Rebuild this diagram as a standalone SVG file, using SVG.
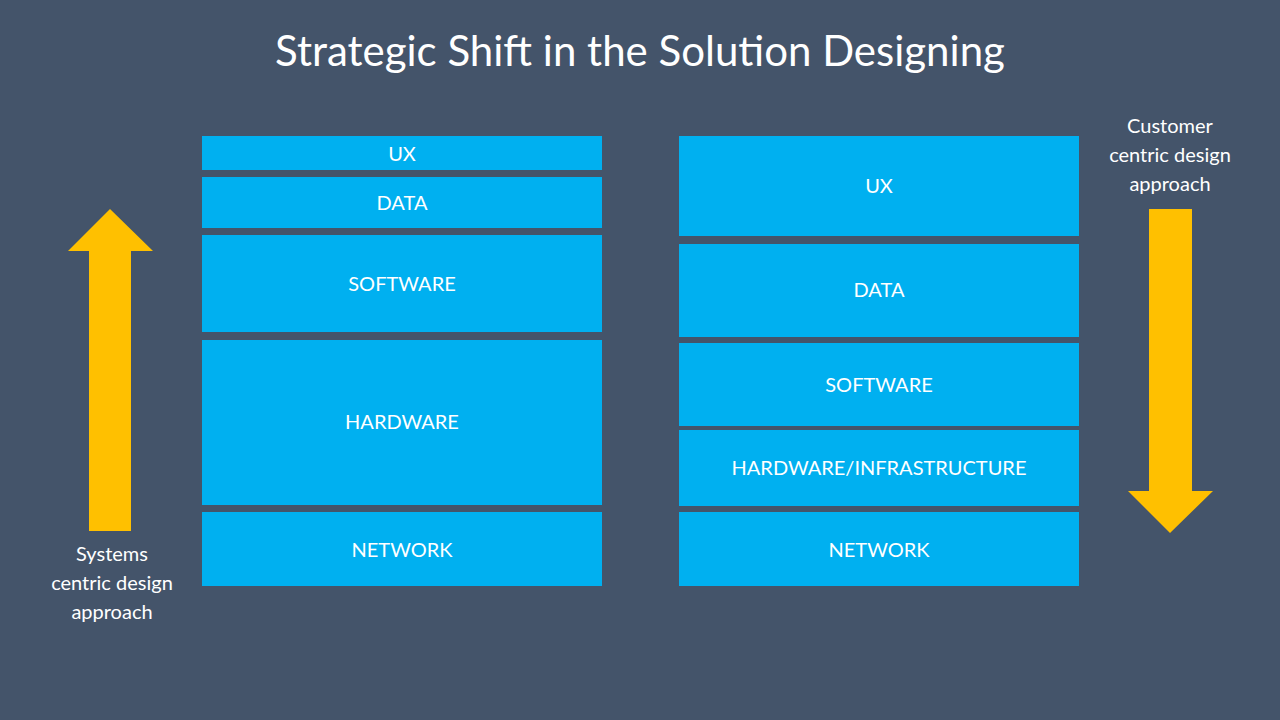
<svg xmlns="http://www.w3.org/2000/svg" width="1280" height="720" viewBox="0 0 1280 720">
<style>
.b{fill:#00B0F0}
.t{font-family:Lato,"Open Sans",sans-serif;font-size:20px;fill:#fff;text-anchor:middle;dominant-baseline:central}
.a{fill:#FFC000}
</style>
<rect width="1280" height="720" fill="#44546A"/>
<text x="640" y="50" class="t" style="font-size:42px">Strategic Shift in the Solution Designing</text>
<g id="left">
<g id="l-ux"><rect class="b" x="202" y="136" width="400" height="34"/><text class="t" x="402" y="153">UX</text></g>
<g id="l-data"><rect class="b" x="202" y="177" width="400" height="51"/><text class="t" x="402" y="202">DATA</text></g>
<g id="l-sw"><rect class="b" x="202" y="235" width="400" height="97"/><text class="t" x="402" y="283">SOFTWARE</text></g>
<g id="l-hw"><rect class="b" x="202" y="340" width="400" height="165"/><text class="t" x="402" y="421">HARDWARE</text></g>
<g id="l-net"><rect class="b" x="202" y="512" width="400" height="74"/><text class="t" x="402" y="549">NETWORK</text></g>
</g>
<g id="right">
<g id="r-ux"><rect class="b" x="679" y="136" width="400" height="100"/><text class="t" x="879" y="185">UX</text></g>
<g id="r-data"><rect class="b" x="679" y="244" width="400" height="93"/><text class="t" x="879" y="289">DATA</text></g>
<g id="r-sw"><rect class="b" x="679" y="343" width="400" height="83"/><text class="t" x="879" y="384">SOFTWARE</text></g>
<g id="r-hw"><rect class="b" x="679" y="430" width="400" height="76"/><text class="t" x="879" y="467">HARDWARE/INFRASTRUCTURE</text></g>
<g id="r-net"><rect class="b" x="679" y="512" width="400" height="74"/><text class="t" x="879" y="549">NETWORK</text></g>
</g>
<g id="connectors">
<polygon class="a" points="110,209 153,251 131,251 131,531 89,531 89,251 68,251"/>
<polygon class="a" points="1149,209 1192,209 1192,491 1213,491 1170,533 1128,491 1149,491"/>
</g>
<g id="labels">
<text class="t" x="112" y="553">Systems</text>
<text class="t" x="112" y="582">centric design</text>
<text class="t" x="112" y="611">approach</text>
<text class="t" x="1170" y="125">Customer</text>
<text class="t" x="1170" y="154">centric design</text>
<text class="t" x="1170" y="183">approach</text>
</g>
</svg>
